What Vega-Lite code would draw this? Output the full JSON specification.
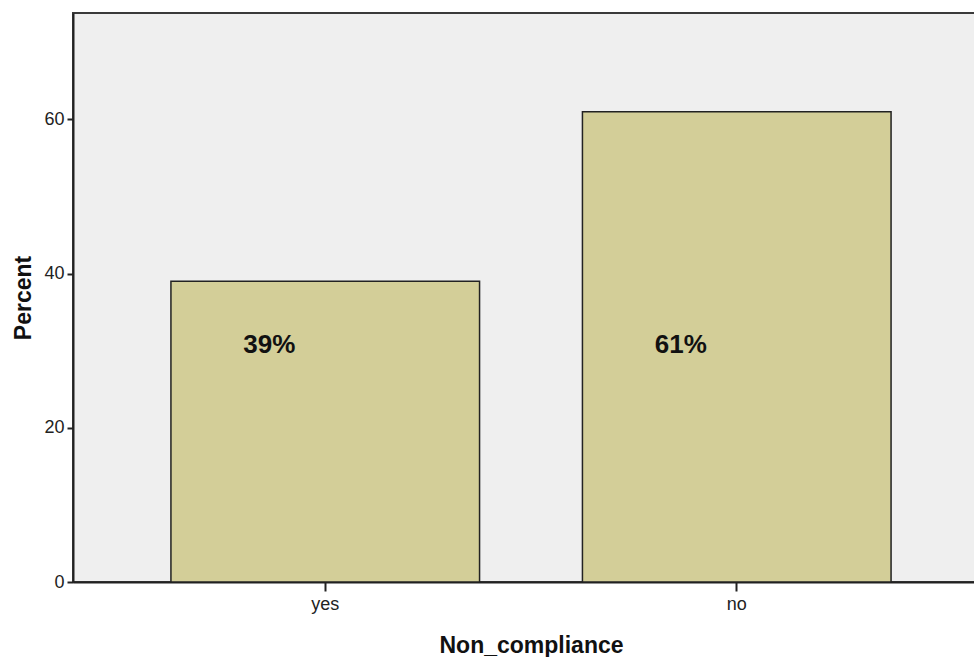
{
  "$schema": "https://vega.github.io/schema/vega-lite/v6.json",
  "autosize": {"type": "none"},
  "padding": {"left": 73, "top": 13, "right": 0, "bottom": 75},
  "width": 916,
  "height": 569,
  "background": "white",
  "config": {
    "view": {"fill": "#efefef", "stroke": "#3a3a3a", "strokeWidth": 2},
    "font": "Liberation Sans",
    "axis": {
      "domainColor": "#222",
      "domainWidth": 2,
      "tickColor": "#222",
      "tickWidth": 2,
      "labelFont": "Liberation Sans",
      "labelFontSize": 18,
      "labelColor": "#222",
      "titleFont": "Liberation Sans",
      "titleFontSize": 23,
      "titleFontWeight": "bold",
      "titleColor": "#111",
      "grid": false
    }
  },
  "data": {
    "values": [
      {"Non_compliance": "yes", "Percent": 39, "label": "39%"},
      {"Non_compliance": "no", "Percent": 61, "label": "61%"}
    ]
  },
  "layer": [
    {
      "mark": {"type": "bar", "fill": "#d3ce98", "stroke": "#222", "strokeWidth": 1.5},
      "encoding": {
        "x": {
          "field": "Non_compliance",
          "type": "nominal",
          "sort": ["yes", "no"],
          "scale": {"paddingInner": 0.25, "paddingOuter": 0.238},
          "axis": {"labelAngle": 0, "tickSize": 9, "labelPadding": 4, "titlePadding": 21, "title": "Non_compliance"}
        },
        "y": {
          "field": "Percent",
          "type": "quantitative",
          "scale": {"domain": [0, 73.8], "nice": false},
          "axis": {"values": [0, 20, 40, 60], "tickSize": 6, "labelPadding": 3, "titlePadding": 8, "title": "Percent"}
        }
      }
    },
    {
      "mark": {"type": "text", "font": "Liberation Sans", "fontSize": 26, "fontWeight": "bold", "color": "#111", "dx": -56, "baseline": "middle"},
      "encoding": {
        "x": {"field": "Non_compliance", "type": "nominal", "sort": ["yes", "no"]},
        "y": {"datum": 30.7},
        "text": {"field": "label"}
      }
    }
  ]
}
